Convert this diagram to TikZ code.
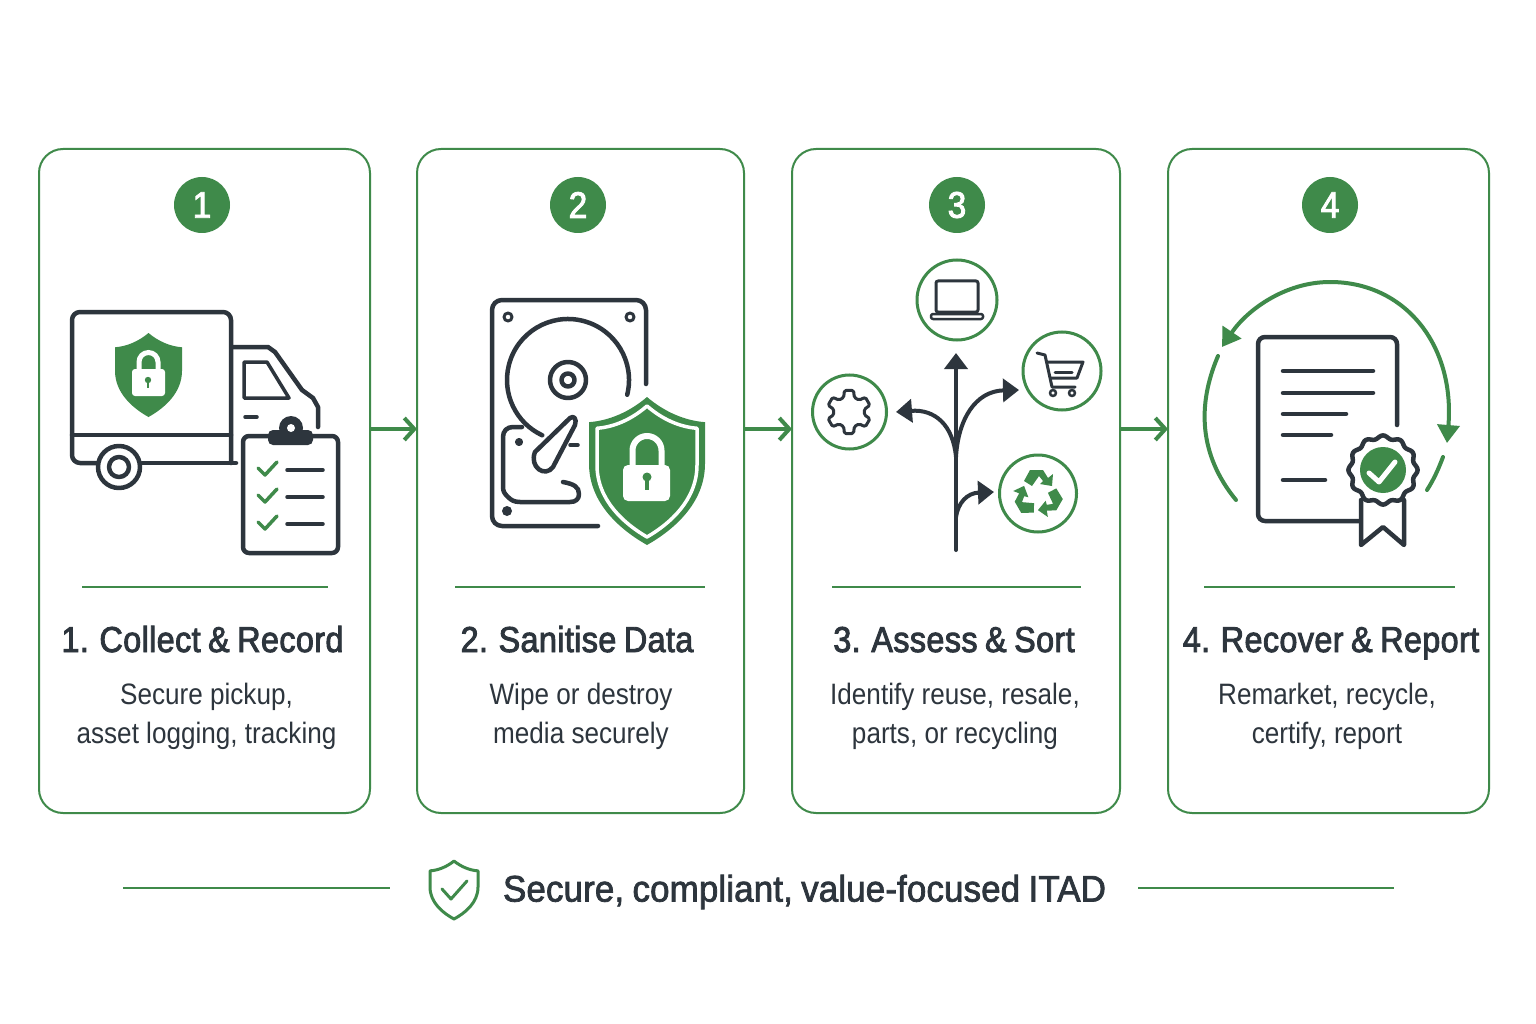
\documentclass[tikz,border=0pt]{standalone}
\usepackage{fontspec}
\usetikzlibrary{arrows.meta,calc}
\setmainfont{Liberation Sans}
\newfontfamily\titlef[FakeStretch=0.9,FakeBold=2.4,WordSpace=0.8,LetterSpace=1]{Liberation Sans}
\newfontfamily\descf[FakeStretch=0.885]{Liberation Sans}
\newfontfamily\footf[FakeStretch=0.945,FakeBold=2,WordSpace=0.85,LetterSpace=0.3]{Liberation Sans}
\definecolor{gr}{HTML}{3F8A4A}
\definecolor{dk}{HTML}{2D353D}
\newcommand{\shieldp}{(0,0) .. controls (0.3,0.1) and (0.65,0.16) .. (1,0.17) -- (1,0.45) .. controls (1,0.72) and (0.45,0.9) .. (0,1) .. controls (-0.45,0.9) and (-1,0.72) .. (-1,0.45) -- (-1,0.17) .. controls (-0.65,0.16) and (-0.3,0.1) .. (0,0) -- cycle}
\newcommand{\recyclep}{(-14,-13) -- (-8,-24) -- (5,-24) -- (10,-16) -- (15,-20) -- (14,-8) -- (2,-10) -- (5,-13) -- (1,-18) -- (-6,-8) -- cycle}
\tikzset{
 cardbox/.style={draw=gr,line width=2pt,rounded corners=24pt,fill=white,inner sep=0pt,outer sep=0pt,minimum height=664pt},
 badge/.style={circle,fill=gr,text=white,minimum size=56pt,inner sep=0pt,font=\titlef\fontsize{37}{37}\selectfont},
 ttl/.style={text=dk,inner sep=0pt,anchor=base,font=\titlef\fontsize{36}{36}\selectfont},
 dsc/.style={text=dk,inner sep=0pt,align=center,font=\descf\fontsize{29.5}{39}\selectfont},
 rule/.style={draw=gr,line width=2pt},
 flow/.style={draw=gr,line width=4pt,-{Straight Barb[length=10pt,width=22pt,line width=4pt]}},
 ink/.style={draw=dk,line width=4.5pt,line cap=round,line join=round},
 thin/.style={draw=dk,line width=3pt,line cap=round,line join=round},
 ring/.style={draw=gr,line width=3pt,fill=white,circle,inner sep=0pt,outer sep=0pt},
 gline/.style={draw=gr,line width=4pt,line cap=round,line join=round},
 brancharrow/.style={draw=dk,line width=4pt,line cap=round,-{Triangle[length=16pt,width=23pt]}},
 cyclearrow/.style={draw=gr,line width=4pt,line cap=round,-{Triangle[length=18pt,width=22pt]}},
}
\begin{document}
\begin{tikzpicture}[x=1pt,y=-1pt]
\useasboundingbox (0,0) rectangle (1536,1024);
\fill[white] (0,0) rectangle (1536,1024);
% cards
\node[cardbox,minimum width=331pt] (card1) at (204.5,481) {};
\node[cardbox,minimum width=327pt] (card2) at (580.5,481) {};
\node[cardbox,minimum width=328pt] (card3) at (956,481) {};
\node[cardbox,minimum width=321pt] (card4) at (1328.5,481) {};
% flow arrows
\coordinate (flowy) at (0,429);
\draw[flow] (card1.east |- flowy) -- (card2.west |- flowy);
\draw[flow] (card2.east |- flowy) -- (card3.west |- flowy);
\draw[flow] (card3.east |- flowy) -- (card4.west |- flowy);
% badges
\node[badge] (b1) at (202,205) {1};
\node[badge] (b2) at (578,205) {2};
\node[badge] (b3) at (957,205) {3};
\node[badge] (b4) at (1330,205) {4};
% dividers
\draw[rule] (82,587) -- (328,587);
\draw[rule] (455,587) -- (705,587);
\draw[rule] (832,587) -- (1081,587);
\draw[rule] (1204,587) -- (1455,587);
% titles
\node[ttl] (t1) at (202.5,652) {1. Collect \& Record};
\node[ttl] (t2) at (577,652) {2. Sanitise Data};
\node[ttl] (t3) at (954,652) {3. Assess \& Sort};
\node[ttl] (t4) at (1331,652) {4. Recover \& Report};
% descriptions
\node[dsc] (d1) at (206.5,716) {Secure pickup,\\asset logging, tracking};
\node[dsc] (d2) at (581,716) {Wipe or destroy\\media securely};
\node[dsc] (d3) at (955,716) {Identify reuse, resale,\\parts, or recycling};
\node[dsc] (d4) at (1327,716) {Remarket, recycle,\\certify, report};
% footer
\draw[rule] (123,888) -- (390,888);
\draw[rule] (1138,888) -- (1394,888);
\node[text=dk,inner sep=0pt,font=\footf\fontsize{37}{37}\selectfont] (foot) at (804.5,892) {Secure, compliant, value-focused ITAD};
\begin{scope}[shift={(454,861)},xscale=24,yscale=58]
\draw[draw=gr,line width=3pt,line join=round] \shieldp;
\end{scope}
\draw[draw=gr,line width=3pt,line cap=round,line join=round] (442,889) -- (451,899) -- (467,881);

% ---- truck
\draw[ink] (97,463) -- (80,463) arc (90:180:8) -- (72,320) arc (180:270:8) -- (223,312) arc (270:360:8) -- (231,463);
\draw[ink] (142,463) -- (236,463);
\draw[ink] (72,435) -- (231,435);
\draw[ink] (233,347) -- (268,347) -- (275,352) -- (302,390) -- (313,398) -- (318,407) -- (318,427);
\draw[ink,line width=3.5pt] (244,362) -- (267,362) -- (289,398) -- (244,398) -- cycle;
\draw[ink,line width=3.5pt] (245,417) -- (257,417);
\draw[ink,fill=white] (119,467) circle (21);
\draw[ink,fill=white] (119,467) circle (10);
\begin{scope}[shift={(148.5,333)},xscale=33.5,yscale=84]
\fill[gr] \shieldp;
\end{scope}
\draw[white,line width=5pt] (139,372) -- (139,362) arc (180:360:9.5) -- (158,372);
\fill[white,rounded corners=3pt] (132,369) rectangle (165,396);
\fill[gr] (148,380) circle (3.2);
\fill[gr] (146.8,380) rectangle (149.2,388);
% clipboard
\draw[ink,fill=white,rounded corners=6pt] (243,436) rectangle (338,553);
\fill[dk,rounded corners=5pt] (268,430) rectangle (313,445);
\fill[dk] (291,428) circle (12);
\fill[white] (291,428) circle (4);
\draw[gline,line width=3.5pt] (258,468) -- (265,475) -- (277,462);
\draw[gline,line width=3.5pt] (258,495) -- (265,502) -- (277,489);
\draw[gline,line width=3.5pt] (258,522) -- (265,529) -- (277,516);
\draw[ink,line width=3.5pt] (287,470) -- (323,470);
\draw[ink,line width=3.5pt] (287,497) -- (323,497);
\draw[ink,line width=3.5pt] (287,524) -- (323,524);

% ---- hdd
\draw[ink] (646,384) -- (646,310) arc (0:-90:10) -- (502,300) arc (270:180:10) -- (492,516) arc (180:90:10) -- (598,526);
\draw[thin] (508,317) circle (4);
\draw[thin] (630,317) circle (4);
\fill[dk] (507,511) circle (5);
\draw[ink] (568,380) ++(14:61) arc (14:-245:61);
\draw[ink] (568,380) circle (18);
\draw[ink] (568,380) circle (6.5);
\draw[ink] (522,427) -- (513,427) .. controls (507,427) and (503,431) .. (503,437) -- (503,487) .. controls (503,492) and (505,494) .. (508,497) .. controls (511,500) and (514,502) .. (520,502) -- (570,502) .. controls (576,502) and (579,499) .. (579,494) .. controls (579,487) and (574,484) .. (563,482);
\draw[ink,line width=3.5pt] (570,445) -- (578,445);
\draw[thin,fill=dk] (519,442) circle (2.5);
\draw[ink,fill=white] (570,418) -- (535,452) .. controls (529,467) and (545,478) .. (553,467) -- (575,425) .. controls (577,419) and (574,415) .. (570,418) -- cycle;
% big shield
\begin{scope}[shift={(647,397)},xscale=58,yscale=148]
\draw[white,line width=6pt,line join=round] \shieldp;
\fill[gr] \shieldp;
\end{scope}
\begin{scope}[shift={(647,406)},xscale=50,yscale=131]
\draw[white,line width=3.5pt,line join=round] \shieldp;
\end{scope}
\draw[white,line width=6pt] (632.5,470) -- (632.5,450.5) arc (180:360:14.5) -- (661.5,470);
\fill[white,rounded corners=5pt] (623,465) rectangle (670,501);
\fill[gr] (647,477) circle (4.5);
\fill[gr] (645,477) rectangle (649,490);

% ---- sorting
\node[ring,minimum size=80pt] (laptop) at (957,300) {};
\node[ring,minimum size=78pt] (cart) at (1062,371) {};
\node[ring,minimum size=74pt] (gear) at (849.5,412) {};
\node[ring,minimum size=77pt] (recyc) at (1038,493.5) {};
\coordinate (root) at (956,550);
\coordinate (fork) at (956,457);
\coordinate (tipup) at (956,353);
\coordinate (tipleft) at (896,412);
\coordinate (tipright) at (1019,390);
\coordinate (forklow) at (956,517);
\coordinate (tiplow) at (994,492);
\draw[brancharrow] (root) -- (tipup);
\draw[brancharrow] (fork) .. controls (953,425) and (935,409) .. (tipleft);
\draw[brancharrow] (fork) .. controls (958,420) and (975,391) .. (tipright);
\draw[brancharrow] (forklow) .. controls (958,503) and (967,493) .. (tiplow);
% laptop
\draw[thin,rounded corners=2pt] (936,281) rectangle (978,312);
\draw[thin,line width=2.5pt,rounded corners=2pt] (931,314) rectangle (983,319);
% cart
\draw[thin] (1037,353) -- (1045,355) -- (1052,387) -- (1075,387);
\draw[thin] (1047,362) -- (1083,362) -- (1077,378) -- (1051,378);
\draw[thin] (1055,372) -- (1072,372);
\draw[thin,line width=2.5pt] (1053,393) circle (3);
\draw[thin,line width=2.5pt] (1072,393) circle (3);
% gear
\begin{scope}[shift={(849,412)}]
\draw[thin,rounded corners=1.5pt] (78:22) \foreach \a in {90,150,210,270,330,390} { -- (\a-12:22) -- (\a+12:22) -- (\a+20:15.5) -- (\a+40:15.5)} -- cycle;
\end{scope}
% recycle
\begin{scope}[shift={(1038,494)}]
\fill[gr] \recyclep;
\begin{scope}[rotate=120]\fill[gr] \recyclep;\end{scope}
\begin{scope}[rotate=240]\fill[gr] \recyclep;\end{scope}
\end{scope}

% ---- certificate
\coordinate (cycletop) at (1330,282);
\coordinate (tipcw) at (1447,443);
\coordinate (tipccw) at (1222,347);
\draw[cyclearrow] (cycletop) .. controls (1405,282) and (1455,345) .. (tipcw);
\draw[cyclearrow] (cycletop) .. controls (1285,282) and (1247,310) .. (tipccw);
\draw[gline] (1218,356) .. controls (1197,405) and (1199,455) .. (1236,500);
\draw[gline] (1443,457) .. controls (1438,470) and (1434,479) .. (1427,490);
\draw[ink,rounded corners=7pt] (1397,425) -- (1397,337) -- (1258,337) -- (1258,521) -- (1360,521);
\draw[ink] (1283,371) -- (1373,371);
\draw[ink] (1283,393) -- (1373,393);
\draw[ink] (1283,414) -- (1346,414);
\draw[ink] (1283,435) -- (1331,435);
\draw[ink] (1283,480) -- (1325,480);
\draw[ink,fill=white] (1361,500) -- (1361,545) -- (1383,527) -- (1404,545) -- (1404,500);
\draw[ink,fill=white] plot[domain=0:357,samples=120,smooth cycle] ({1383+(33+1.6*cos(12*\x))*cos(\x)},{470+(33+1.6*cos(12*\x))*sin(\x)});
\fill[gr] (1383,470) circle (23);
\draw[white,line width=5pt,line cap=round,line join=round] (1369,473) -- (1379,482) -- (1395,462);
\end{tikzpicture}
\end{document}
